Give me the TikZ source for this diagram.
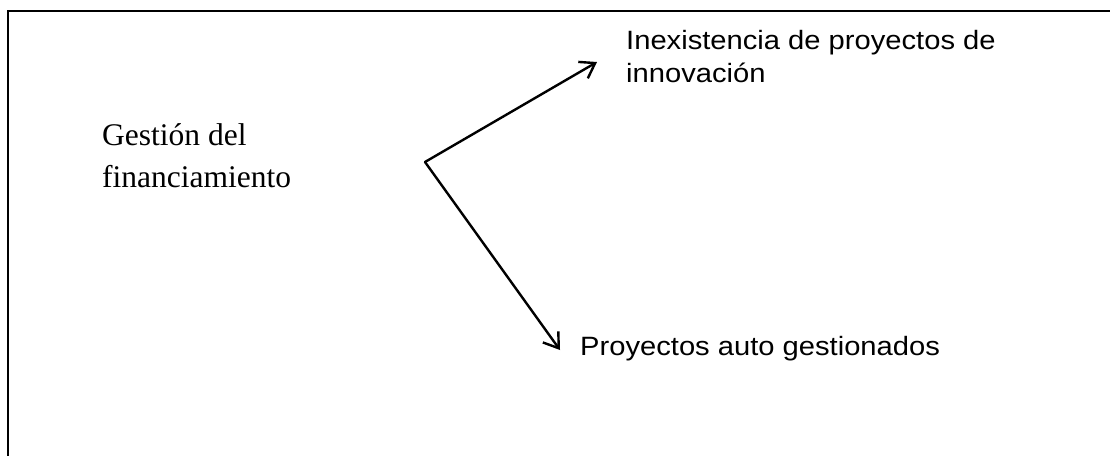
\documentclass[tikz,border=0pt]{standalone}
\usepackage{fontspec}
\setmainfont{Liberation Serif}
\newfontfamily\arialx{Liberation Sans}[FakeStretch=1.1]
\usetikzlibrary{arrows.meta}
\tikzset{
  serifbox/.style={inner sep=0pt, anchor=base west, align=left, font=\fontsize{31.5}{42}\selectfont},
  sansbox/.style={inner sep=0pt, anchor=base west, align=left, font=\arialx\fontsize{26.5}{32.5}\selectfont},
  frameline/.style={line width=2.4pt},
  arrowline/.style={line width=2.4pt, line cap=round, line join=miter, -{Straight Barb[length=14pt,width=19pt,line width=2.4pt]}}
}
\begin{document}
\begin{tikzpicture}[x=1pt,y=-1pt]
\useasboundingbox (0,0) rectangle (1110,455);
\draw[frameline] (8,456) -- (8,11) -- (1111,11);
\node[serifbox] (src) at (102,187) {Gestión del\\financiamiento};
\node[sansbox] (t1) at (626,82) {Inexistencia de proyectos de\\innovación};
\node[sansbox] (t2) at (580,355) {Proyectos auto gestionados};
\coordinate (v) at (425,162);
\coordinate (a1) at (597,62);
\coordinate (a2) at (560,350);
\draw[arrowline] (v) -- (a1);
\draw[arrowline] (v) -- (a2);
\end{tikzpicture}
\end{document}
